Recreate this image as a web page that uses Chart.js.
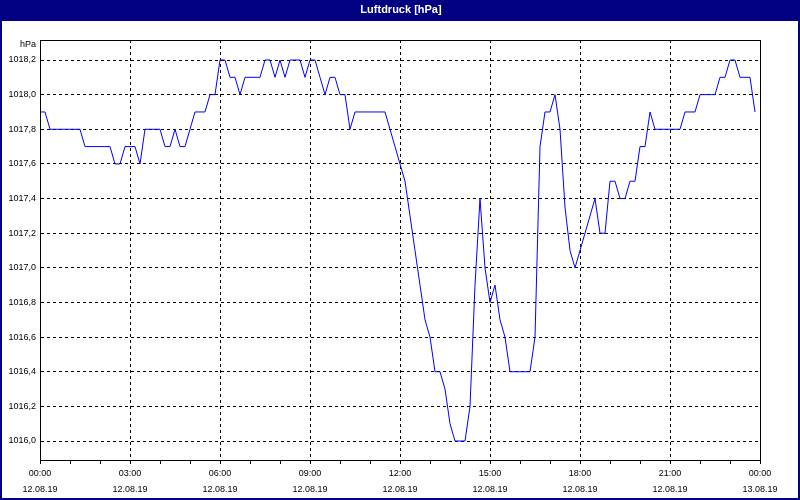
<!DOCTYPE html>
<html>
<head>
<meta charset="utf-8">
<script src="https://cdn.jsdelivr.net/npm/chart.js@4/dist/chart.umd.min.js"></script>
<style>
  html, body { margin: 0; padding: 0; background: #fff; }
  #wrap { width: 800px; height: 500px; position: relative; }
  canvas { display: block; }
</style>
</head>
<body>
<div id="wrap"><canvas id="c" width="800" height="500"></canvas></div>
<script>
// ---- Data (10-minute samples, 12.08.19 00:00 .. 23:50) ----
const chartTitle = 'Luftdruck [hPa]';
const unitLabel = 'hPa';
const sampleMinutes = 10;
const pressure = [
  1017.9, 1017.9, 1017.8, 1017.8, 1017.8, 1017.8, 1017.8, 1017.8, 1017.8, 1017.7,
  1017.7, 1017.7, 1017.7, 1017.7, 1017.7, 1017.6, 1017.6, 1017.7, 1017.7, 1017.7,
  1017.6, 1017.8, 1017.8, 1017.8, 1017.8, 1017.7, 1017.7, 1017.8, 1017.7, 1017.7,
  1017.8, 1017.9, 1017.9, 1017.9, 1018.0, 1018.0, 1018.2, 1018.2, 1018.1, 1018.1,
  1018.0, 1018.1, 1018.1, 1018.1, 1018.1, 1018.2, 1018.2, 1018.1, 1018.2, 1018.1,
  1018.2, 1018.2, 1018.2, 1018.1, 1018.2, 1018.2, 1018.1, 1018.0, 1018.1, 1018.1,
  1018.0, 1018.0, 1017.8, 1017.9, 1017.9, 1017.9, 1017.9, 1017.9, 1017.9, 1017.9,
  1017.8, 1017.7, 1017.6, 1017.5, 1017.3, 1017.1, 1016.9, 1016.7, 1016.6, 1016.4,
  1016.4, 1016.3, 1016.1, 1016.0, 1016.0, 1016.0, 1016.2, 1016.9, 1017.4, 1017.0,
  1016.8, 1016.9, 1016.7, 1016.6, 1016.4, 1016.4, 1016.4, 1016.4, 1016.4, 1016.6,
  1017.7, 1017.9, 1017.9, 1018.0, 1017.8, 1017.35, 1017.1, 1017.0, 1017.1, 1017.2,
  1017.3, 1017.4, 1017.2, 1017.2, 1017.5, 1017.5, 1017.4, 1017.4, 1017.5, 1017.5,
  1017.7, 1017.7, 1017.9, 1017.8, 1017.8, 1017.8, 1017.8, 1017.8, 1017.8, 1017.9,
  1017.9, 1017.9, 1018.0, 1018.0, 1018.0, 1018.0, 1018.1, 1018.1, 1018.2, 1018.2,
  1018.1, 1018.1, 1018.1, 1017.9
];
// y axis ticks and labels
const yTicks = [1016.0, 1016.2, 1016.4, 1016.6, 1016.8, 1017.0, 1017.2, 1017.4, 1017.6, 1017.8, 1018.0, 1018.2];
const yTickLabels = ['1016,0', '1016,2', '1016,4', '1016,6', '1016,8', '1017,0', '1017,2', '1017,4', '1017,6', '1017,8', '1018,0', '1018,2'];
// x axis: hourly tick marks (minutes), labelled every 3 hours
const xTickMinutes = [0, 60, 120, 180, 240, 300, 360, 420, 480, 540, 600, 660, 720, 780, 840, 900, 960, 1020, 1080, 1140, 1200, 1260, 1320, 1380, 1440];
const xMajorMinutes = [0, 180, 360, 540, 720, 900, 1080, 1260, 1440];
const xTickLabels = [
  ['00:00', '12.08.19'], ['03:00', '12.08.19'], ['06:00', '12.08.19'],
  ['09:00', '12.08.19'], ['12:00', '12.08.19'], ['15:00', '12.08.19'],
  ['18:00', '12.08.19'], ['21:00', '12.08.19'], ['00:00', '13.08.19']
];

const points = pressure.map((v, i) => ({ x: i * sampleMinutes, y: v }));

const frame = {
  id: 'frame',
  beforeDraw(chart) {
    const ctx = chart.ctx;
    ctx.save();
    ctx.fillStyle = '#ffffff';
    ctx.fillRect(0, 0, 800, 500);
    ctx.restore();
  },
  afterDraw(chart) {
    const ctx = chart.ctx;
    const a = chart.chartArea;
    ctx.save();
    // window border + title bar
    ctx.fillStyle = '#000080';
    ctx.fillRect(0, 0, 800, 21);
    ctx.fillRect(0, 0, 2, 500);
    ctx.fillRect(798, 0, 2, 500);
    ctx.fillRect(0, 498, 800, 2);
    ctx.fillStyle = '#ffffff';
    ctx.font = 'bold 11px "Liberation Sans", Arial, sans-serif';
    ctx.textAlign = 'center';
    ctx.textBaseline = 'middle';
    ctx.fillText(chartTitle, 401, 10);
    // plot frame
    ctx.strokeStyle = '#000';
    ctx.lineWidth = 1;
    ctx.strokeRect(Math.round(a.left) + 0.5, Math.round(a.top) + 0.5, Math.round(a.right - a.left), Math.round(a.bottom - a.top));
    // unit label
    ctx.fillStyle = '#000';
    ctx.font = '9px "Liberation Sans", Arial, sans-serif';
    ctx.textAlign = 'right';
    ctx.fillText(unitLabel, 36, 45);
    ctx.restore();
  }
};

new Chart(document.getElementById('c'), {
  type: 'line',
  data: {
    datasets: [{
      data: points,
      borderColor: '#0000ff',
      borderWidth: 1,
      pointRadius: 0,
      tension: 0,
      fill: false
    }]
  },
  options: {
    responsive: false,
    animation: false,
    events: [],
    layout: { padding: { top: 40, right: 40, left: 0, bottom: 0 } },
    plugins: { legend: { display: false }, title: { display: false }, tooltip: { enabled: false } },
    scales: {
      x: {
        type: 'linear',
        min: 0,
        max: 1440,
        afterFit(scale) { scale.height = 40; },
        afterBuildTicks(scale) { scale.ticks = xTickMinutes.map(v => ({ value: v })); },
        border: { display: true, color: '#000', width: 1, dash: [3, 3] },
        grid: {
          color: ctx => (ctx.tick && xMajorMinutes.includes(ctx.tick.value)) ? '#000' : 'rgba(0,0,0,0)',
          tickColor: '#000',
          tickLength: 4,
          tickBorderDash: [],
          lineWidth: 1,
          drawTicks: true
        },
        ticks: {
          autoSkip: false,
          maxRotation: 0,
          minRotation: 0,
          padding: 2,
          color: '#000',
          font: { family: '"Liberation Sans", Arial, sans-serif', size: 9, lineHeight: '16px' },
          callback: (v) => {
            const k = xMajorMinutes.indexOf(v);
            return k >= 0 ? xTickLabels[k] : '';
          }
        }
      },
      y: {
        type: 'linear',
        min: 1015.8903,
        max: 1018.3155,
        afterFit(scale) { scale.width = 40; },
        afterBuildTicks(scale) { scale.ticks = yTicks.map(v => ({ value: v })); },
        border: { display: true, color: '#000', width: 1, dash: [3, 3] },
        grid: {
          color: '#000',
          lineWidth: 1,
          drawTicks: false
        },
        ticks: {
          padding: 4,
          color: '#000',
          font: { family: '"Liberation Sans", Arial, sans-serif', size: 9 },
          callback: (v) => {
            const k = yTicks.findIndex(t => Math.abs(t - v) < 1e-6);
            return k >= 0 ? yTickLabels[k] : '';
          }
        }
      }
    }
  },
  plugins: [frame]
});
</script>
</body>
</html>
